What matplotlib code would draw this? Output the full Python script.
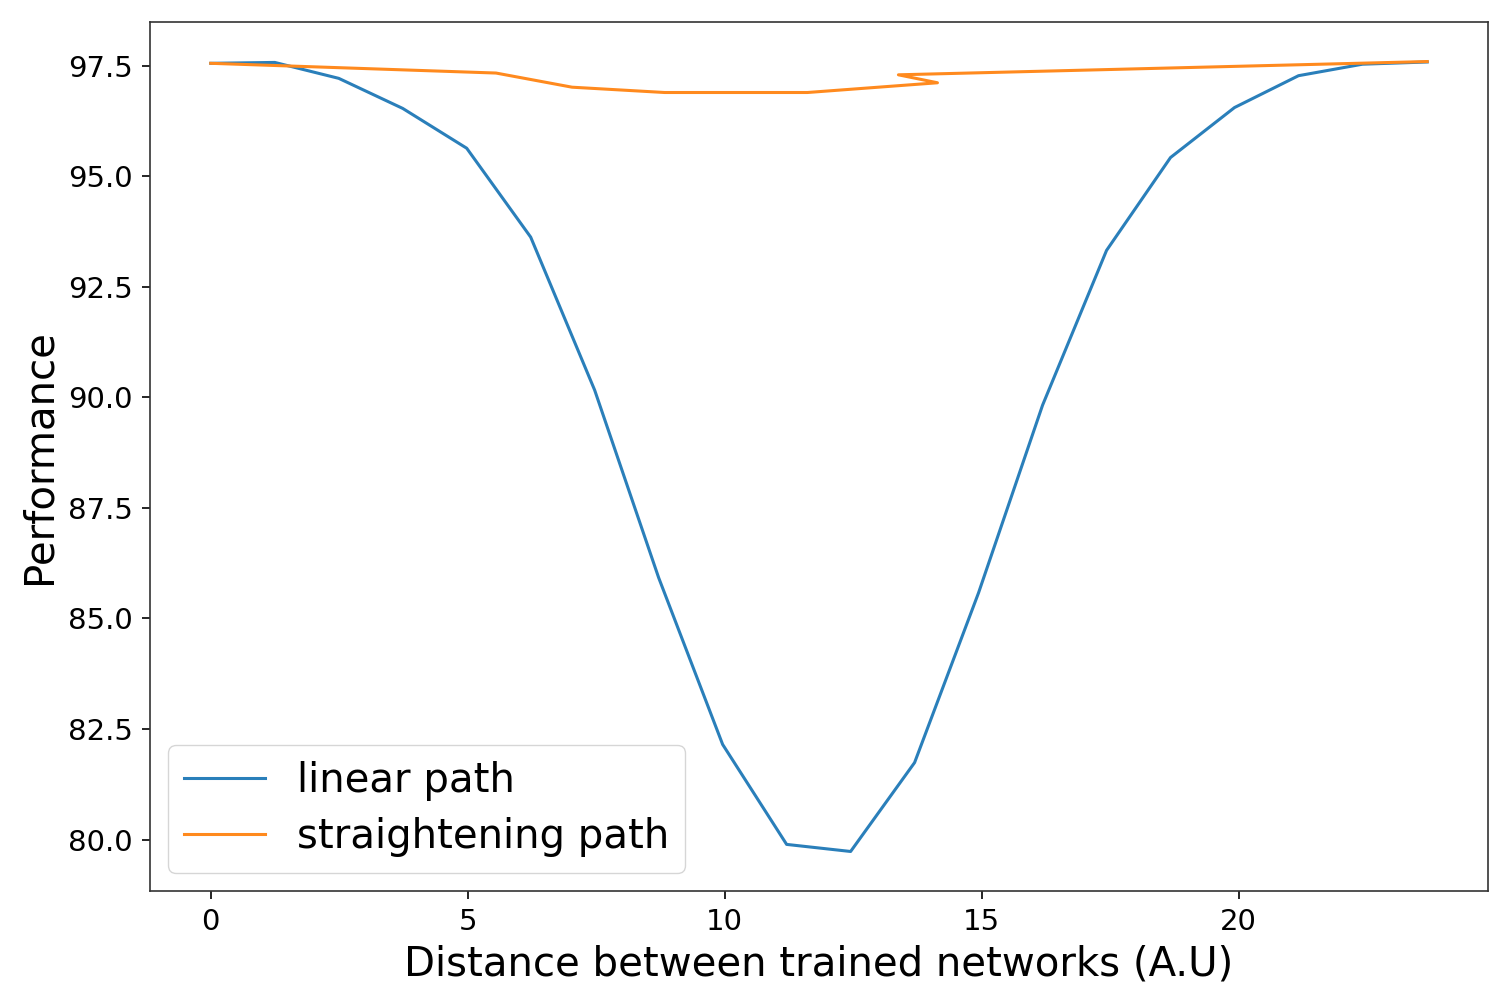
import matplotlib
matplotlib.use("Agg")
import matplotlib.pyplot as plt

# Linear path (blue)
linear_x = [0.0, 1.245, 2.49, 3.735, 4.98, 6.225, 7.47, 8.715, 9.96, 11.205,
            12.45, 13.695, 14.94, 16.185, 17.43, 18.675, 19.92, 21.165, 22.41, 23.67]
linear_y = [97.55, 97.57, 97.21, 96.53, 95.63, 93.62, 90.16, 85.92, 82.15, 79.89,
            79.73, 81.74, 85.58, 89.82, 93.32, 95.42, 96.55, 97.27, 97.53, 97.58]

# Straightening path (orange)
straight_x = [0.0, 5.55, 7.03, 8.83, 11.61, 14.14, 13.38, 23.67]
straight_y = [97.55, 97.33, 97.01, 96.89, 96.89, 97.11, 97.29, 97.59]

labels = ["linear path", "straightening path"]
xlabel = "Distance between trained networks (A.U)"
ylabel = "Performance"

fig = plt.figure(figsize=(15.04, 10.02), dpi=100)
ax = fig.add_axes([0.0997, 0.1108, 0.8897, 0.8672])
ax.plot(linear_x, linear_y, color="#2a7fba", lw=2.2, label=labels[0])
ax.plot(straight_x, straight_y, color="#ff8a1e", lw=2.2, label=labels[1])

ax.set_xlabel(xlabel, fontsize=29, labelpad=6)
ax.set_ylabel(ylabel, fontsize=29, labelpad=6)
ax.tick_params(labelsize=21, length=5.5, width=1.2, pad=7)
for s in ax.spines.values():
    s.set_linewidth(1.2)
    s.set_color("#333333")
ax.legend(loc="lower left", fontsize=29, handlelength=2.0, borderpad=0.4,
          labelspacing=0.4, borderaxespad=0.45)

fig.savefig("out.png", dpi=100)
